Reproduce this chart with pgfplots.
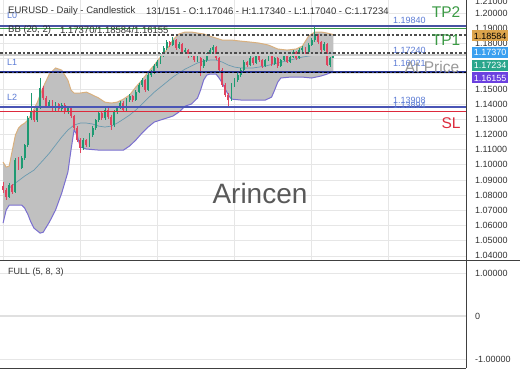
\documentclass[border=0pt]{standalone}
\usepackage{fontspec}
\setmainfont{Liberation Sans}
\usepackage{pgfplots}
\usepackage{pgfplotstable}
\pgfplotsset{compat=1.18}

\definecolor{upc}{HTML}{1E9A72}
\definecolor{dnc}{HTML}{E0435E}
\definecolor{txt}{HTML}{333333}
\definecolor{gridc}{HTML}{E6E6E6}
\definecolor{bbfill}{HTML}{C0C0C0}
\definecolor{bbup}{HTML}{D9B07E}
\definecolor{bblo}{HTML}{7A6FD0}
\definecolor{bbmid}{HTML}{6A9AB0}
\definecolor{lvlblue}{HTML}{5B7BD5}
\definecolor{tpgreen}{HTML}{3A9A44}
\definecolor{slred}{HTML}{DD2A3C}
\definecolor{navy}{HTML}{283593}
\definecolor{l2blue}{HTML}{4A55B5}
\definecolor{boxor}{HTML}{DCA44C}
\definecolor{boxbl}{HTML}{3AA0F0}
\definecolor{boxte}{HTML}{2AA68C}
\definecolor{boxpu}{HTML}{6B40E0}

\pgfplotstableread{
i o h l c
3 1.0787 1.0880 1.0780 1.0867
5 1.0820 1.1045 1.0815 1.1031
7 1.0979 1.1060 1.0970 1.1044
8 1.1044 1.1140 1.1030 1.1130
9 1.1130 1.1320 1.1120 1.1308
10 1.1308 1.1473 1.1295 1.1348
12 1.1295 1.1385 1.1285 1.1374
13 1.1374 1.1572 1.1365 1.1506
16 1.1387 1.1430 1.1375 1.1414
18 1.1361 1.1415 1.1350 1.1400
20 1.1367 1.1405 1.1355 1.1394
22 1.1348 1.1385 1.1335 1.1374
27 1.1110 1.1175 1.1100 1.1163
29 1.1130 1.1210 1.1120 1.1196
30 1.1196 1.1255 1.1185 1.1242
31 1.1242 1.1305 1.1230 1.1295
32 1.1295 1.1355 1.1285 1.1341
34 1.1308 1.1375 1.1298 1.1361
37 1.1262 1.1360 1.1250 1.1348
38 1.1348 1.1385 1.1335 1.1374
39 1.1374 1.1420 1.1365 1.1407
41 1.1361 1.1440 1.1350 1.1427
42 1.1427 1.1465 1.1415 1.1453
44 1.1427 1.1490 1.1418 1.1479
45 1.1479 1.1538 1.1470 1.1526
46 1.1526 1.1570 1.1515 1.1559
48 1.1493 1.1602 1.1485 1.1591
49 1.1591 1.1625 1.1580 1.1611
50 1.1611 1.1662 1.1600 1.1651
51 1.1651 1.1690 1.1640 1.1677
52 1.1677 1.1735 1.1665 1.1723
53 1.1723 1.1780 1.1712 1.1769
54 1.1769 1.1820 1.1758 1.1809
56 1.1789 1.1842 1.1780 1.1822
58 1.1769 1.1808 1.1760 1.1796
60 1.1743 1.1768 1.1735 1.1756
62 1.1717 1.1742 1.1708 1.1730
64 1.1690 1.1715 1.1680 1.1703
66 1.1651 1.1700 1.1640 1.1690
67 1.1690 1.1735 1.1680 1.1723
68 1.1723 1.1768 1.1715 1.1756
69 1.1756 1.1790 1.1745 1.1776
75 1.1427 1.1538 1.1418 1.1526
76 1.1526 1.1570 1.1515 1.1559
77 1.1559 1.1602 1.1548 1.1591
78 1.1591 1.1635 1.1580 1.1624
79 1.1624 1.1688 1.1615 1.1677
81 1.1657 1.1715 1.1648 1.1703
83 1.1671 1.1728 1.1662 1.1717
86 1.1651 1.1700 1.1642 1.1690
87 1.1690 1.1728 1.1682 1.1717
89 1.1664 1.1712 1.1655 1.1703
91 1.1651 1.1700 1.1642 1.1690
92 1.1690 1.1735 1.1682 1.1723
94 1.1677 1.1720 1.1668 1.1710
95 1.1710 1.1755 1.1702 1.1743
97 1.1703 1.1768 1.1695 1.1756
98 1.1756 1.1780 1.1745 1.1769
100 1.1743 1.1800 1.1735 1.1789
101 1.1789 1.1835 1.1780 1.1822
102 1.1822 1.1914 1.1812 1.1855
105 1.1756 1.1810 1.1748 1.1796
107 1.1660 1.1712 1.1645 1.1705
108 1.17046 1.17340 1.17040 1.17234
}\upT

\pgfplotstableread{
i o h l c
1 1.0860 1.0885 1.0815 1.0834
2 1.0834 1.0850 1.0770 1.0787
4 1.0867 1.0875 1.0805 1.0820
6 1.1031 1.1050 1.0965 1.0979
11 1.1348 1.1360 1.1280 1.1295
14 1.1506 1.1520 1.1430 1.1440
15 1.1440 1.1455 1.1375 1.1387
17 1.1414 1.1425 1.1350 1.1361
19 1.1400 1.1410 1.1355 1.1367
21 1.1394 1.1405 1.1335 1.1348
23 1.1374 1.1385 1.1310 1.1321
24 1.1321 1.1330 1.1230 1.1242
25 1.1242 1.1255 1.1150 1.1163
26 1.1163 1.1175 1.1077 1.1110
28 1.1163 1.1172 1.1118 1.1130
33 1.1341 1.1350 1.1295 1.1308
35 1.1361 1.1372 1.1305 1.1315
36 1.1315 1.1325 1.1229 1.1262
40 1.1407 1.1418 1.1350 1.1361
43 1.1453 1.1462 1.1415 1.1427
47 1.1559 1.1568 1.1480 1.1493
55 1.1809 1.1818 1.1778 1.1789
57 1.1822 1.1830 1.1758 1.1769
59 1.1796 1.1805 1.1732 1.1743
61 1.1756 1.1765 1.1705 1.1717
63 1.1730 1.1738 1.1680 1.1690
65 1.1703 1.1712 1.1585 1.1651
70 1.1776 1.1785 1.1692 1.1703
71 1.1703 1.1712 1.1612 1.1624
72 1.1624 1.1635 1.1515 1.1526
73 1.1526 1.1540 1.1448 1.1460
74 1.1460 1.1470 1.1380 1.1427
80 1.1677 1.1685 1.1645 1.1657
82 1.1703 1.1712 1.1660 1.1671
84 1.1717 1.1725 1.1680 1.1690
85 1.1690 1.1698 1.1640 1.1651
88 1.1717 1.1725 1.1652 1.1664
90 1.1703 1.1710 1.1640 1.1651
93 1.1723 1.1730 1.1668 1.1677
96 1.1743 1.1750 1.1692 1.1703
99 1.1769 1.1778 1.1732 1.1743
103 1.1855 1.1865 1.1798 1.1809
104 1.1809 1.1818 1.1745 1.1756
106 1.1796 1.1805 1.1650 1.1660
}\dnT

\begin{document}
\begin{tikzpicture}[x=1pt,y=1pt]
\fill[white] (0,0) rectangle (520,390);

\begin{axis}[
  name=price, at={(0pt,130pt)}, anchor=south west,
  scale only axis, width=466pt, height=260pt,
  xmin=0, xmax=151, ymin=1.0373, ymax=1.2086,
  axis line style={draw=none}, tick style={draw=none},
  xtick={1,26,51,76,101,126}, xticklabel=\empty,
  ytick={1.04,1.05,1.06,1.07,1.08,1.09,1.10,1.11,1.12,1.13,1.14,1.15,1.16,1.17,1.18,1.19,1.20},
  yticklabels={1.04000,1.05000,1.06000,1.07000,1.08000,1.09000,1.10000,1.11000,1.12000,1.13000,1.14000,1.15000,{},{},1.18000,1.19000,1.20000},
  yticklabel pos=right,
  yticklabel style={anchor=west, inner sep=0pt, xshift=9pt, font=\fontsize{9}{10}\selectfont, text=txt},
  xmajorgrids, ymajorgrids,
  grid style={draw=gridc, line width=0.7pt},
]
% Bollinger band area (upper band, then lower band in reverse)
\addplot[fill=bbfill, draw=none] coordinates {
(1,1.1018)(2,1.0985)(3,1.0992)(4,1.1097)(5,1.1196)(6,1.1242)(7,1.1262)(8,1.1275)(9,1.1295)(10,1.1328)(12,1.1407)(14,1.1512)(16,1.1598)(18,1.1638)(20,1.1624)(22,1.1558)(23,1.1493)(24,1.1473)(26,1.1473)(28,1.1479)(30,1.1460)(32,1.1440)(34,1.1413)(36,1.1407)(38,1.1413)(40,1.1433)(42,1.1460)(44,1.1512)(46,1.1558)(48,1.1611)(50,1.1657)(52,1.1710)(54,1.1756)(56,1.1822)(58,1.1862)(60,1.1875)(62,1.1875)(64,1.1868)(66,1.1862)(68,1.1848)(70,1.1835)(72,1.1822)(75,1.1822)(78,1.1815)(81,1.1809)(84,1.1802)(87,1.1789)(90,1.1763)(93,1.1756)(96,1.1763)(98,1.1783)(100,1.1848)(102,1.1875)(104,1.1875)(106,1.1868)(108,1.1858)
(108,1.1615)(106,1.1598)(104,1.1585)(101,1.1572)(98,1.1578)(94,1.1578)(91,1.1572)(90,1.1545)(89,1.1493)(88,1.1446)(86,1.1427)(82,1.1427)(78,1.1427)(75,1.1433)(74,1.1460)(73,1.1499)(72,1.1539)(71,1.1572)(70,1.1598)(68,1.1598)(67,1.1591)(66,1.1559)(65,1.1493)(64,1.1440)(62,1.1400)(60,1.1387)(58,1.1348)(56,1.1321)(54,1.1308)(52,1.1295)(50,1.1282)(48,1.1249)(46,1.1209)(44,1.1163)(42,1.1124)(40,1.1097)(36,1.1097)(32,1.1097)(28,1.1104)(26,1.1117)(25,1.1196)(24,1.1229)(23,1.1097)(22,1.0952)(20,1.0814)(18,1.0702)(16,1.0623)(14,1.0556)(13,1.0550)(11,1.0583)(10,1.0623)(9,1.0675)(8,1.0715)(7,1.0735)(5,1.0735)(3,1.0735)(2,1.0702)(1,1.0616)} -- cycle;
% upper band
\addplot[draw=bbup, line width=1pt] coordinates {
(1,1.1018)(2,1.0985)(3,1.0992)(4,1.1097)(5,1.1196)(6,1.1242)(7,1.1262)(8,1.1275)(9,1.1295)(10,1.1328)(12,1.1407)(14,1.1512)(16,1.1598)(18,1.1638)(20,1.1624)(22,1.1558)(23,1.1493)(24,1.1473)(26,1.1473)(28,1.1479)(30,1.1460)(32,1.1440)(34,1.1413)(36,1.1407)(38,1.1413)(40,1.1433)(42,1.1460)(44,1.1512)(46,1.1558)(48,1.1611)(50,1.1657)(52,1.1710)(54,1.1756)(56,1.1822)(58,1.1862)(60,1.1875)(62,1.1875)(64,1.1868)(66,1.1862)(68,1.1848)(70,1.1835)(72,1.1822)(75,1.1822)(78,1.1815)(81,1.1809)(84,1.1802)(87,1.1789)(90,1.1763)(93,1.1756)(96,1.1763)(98,1.1783)(100,1.1848)(102,1.1875)(104,1.1875)(106,1.1868)(108,1.1858)};
% lower band
\addplot[draw=bblo, line width=1pt] coordinates {
(1,1.0616)(2,1.0702)(3,1.0735)(5,1.0735)(7,1.0735)(8,1.0715)(9,1.0675)(10,1.0623)(11,1.0583)(13,1.0550)(14,1.0556)(16,1.0623)(18,1.0702)(20,1.0814)(22,1.0952)(23,1.1097)(24,1.1229)(25,1.1196)(26,1.1117)(28,1.1104)(32,1.1097)(36,1.1097)(40,1.1097)(42,1.1124)(44,1.1163)(46,1.1209)(48,1.1249)(50,1.1282)(52,1.1295)(54,1.1308)(56,1.1321)(58,1.1348)(60,1.1387)(62,1.1400)(64,1.1440)(65,1.1493)(66,1.1559)(67,1.1591)(68,1.1598)(70,1.1598)(71,1.1572)(72,1.1539)(73,1.1499)(74,1.1460)(75,1.1433)(78,1.1427)(82,1.1427)(86,1.1427)(88,1.1446)(89,1.1493)(90,1.1545)(91,1.1572)(94,1.1578)(98,1.1578)(101,1.1572)(104,1.1585)(106,1.1598)(108,1.1615)};
% middle band
\addplot[draw=bbmid, line width=0.7pt] coordinates {
(3,1.0847)(5,1.0880)(8,1.0926)(11,1.0965)(14,1.1031)(16,1.1077)(18,1.1130)(20,1.1183)(22,1.1229)(24,1.1262)(26,1.1275)(28,1.1275)(30,1.1269)(32,1.1255)(34,1.1249)(36,1.1255)(38,1.1275)(40,1.1301)(42,1.1328)(44,1.1361)(46,1.1400)(48,1.1440)(50,1.1479)(52,1.1512)(54,1.1545)(56,1.1578)(58,1.1605)(60,1.1631)(62,1.1651)(64,1.1671)(66,1.1684)(68,1.1690)(70,1.1690)(72,1.1677)(74,1.1657)(76,1.1644)(78,1.1638)(82,1.1638)(86,1.1651)(90,1.1671)(94,1.1690)(98,1.1710)(102,1.1723)(105,1.1730)(108,1.1737)};
% candles: wicks
\addplot[draw=none, mark=none, error bars/.cd, y dir=both, y explicit, error mark=none, error bar style={draw=upc, line width=0.7pt}]
  table[x=i, y=c, y error plus expr=\thisrow{h}-\thisrow{c}, y error minus expr=\thisrow{c}-\thisrow{l}] {\upT};
\addplot[draw=none, mark=none, error bars/.cd, y dir=both, y explicit, error mark=none, error bar style={draw=dnc, line width=0.7pt}]
  table[x=i, y=c, y error plus expr=\thisrow{h}-\thisrow{c}, y error minus expr=\thisrow{c}-\thisrow{l}] {\dnT};
% candles: bodies
\addplot[draw=none, mark=none, error bars/.cd, y dir=plus, y explicit, error mark=none, error bar style={draw=upc, line width=1.9pt}]
  table[x=i, y=o, y error plus expr=\thisrow{c}-\thisrow{o}] {\upT};
\addplot[draw=none, mark=none, error bars/.cd, y dir=plus, y explicit, error mark=none, error bar style={draw=dnc, line width=1.9pt}]
  table[x=i, y=c, y error plus expr=\thisrow{o}-\thisrow{c}] {\dnT};
% level lines
\addplot[draw=navy!85, line width=1.2pt] coordinates {(0,1.1914)(151,1.1914)};
\addplot[draw=tpgreen, line width=1pt] coordinates {(0,1.1901)(151,1.1901)};
\addplot[draw=black!70, line width=1.2pt, dash pattern=on 2.5pt off 2pt] coordinates {(0,1.1855)(151,1.1855)};
\addplot[draw=black!70, line width=1.2pt, dash pattern=on 2.5pt off 2pt] coordinates {(0,1.1737)(151,1.1737)};
\addplot[draw=black!20, line width=2pt] coordinates {(0,1.1723)(151,1.1723)};
\addplot[draw=navy, line width=1.8pt] coordinates {(0,1.1611)(151,1.1611)};
\addplot[draw=black, line width=1pt, dash pattern=on 2.5pt off 2pt] coordinates {(0,1.1611)(151,1.1611)};
\addplot[draw=l2blue, line width=1.8pt] coordinates {(0,1.1381)(151,1.1381)};
\addplot[draw=slred, line width=1pt] coordinates {(0,1.1354)(151,1.1354)};
\end{axis}

\begin{axis}[
  name=lower, at={(0pt,22pt)}, anchor=south west,
  scale only axis, width=466pt, height=108pt,
  xmin=0, xmax=151, ymin=-1.209, ymax=1.302,
  axis line style={draw=none}, tick style={draw=none},
  xtick=\empty,
  ytick={-1,0,1}, yticklabels={-1.00000,0,1.00000},
  yticklabel pos=right,
  yticklabel style={anchor=west, inner sep=0pt, xshift=9pt, font=\fontsize{9}{10}\selectfont, text=txt},
  ymajorgrids,
  grid style={draw=gridc, line width=0.7pt},
]
\addplot[draw=black!12, line width=1.5pt] coordinates {(0,0)(151,0)};
\end{axis}

% frame
\draw[black!75, line width=0.9pt] (0,130) -- (520,130);
\draw[black!75, line width=0.9pt] (0,22) -- (466,22);
\draw[black!75, line width=0.9pt] (466,22) -- (466,390);

% cut label at top
\begin{scope}
\clip (0,0) rectangle (520,390);
\node[anchor=west, inner sep=0pt, font=\fontsize{9}{10}\selectfont, text=txt] at (475,389) {1.21000};
\end{scope}

% price boxes
\tikzset{pbox/.style={anchor=west, inner sep=0pt, minimum width=36pt, minimum height=11pt, font=\fontsize{9}{10}\selectfont}}
\node[pbox, fill=boxor, text=black] at (472,354) {1.18584};
\node[pbox, fill=boxbl, text=white] at (472,337.5) {1.17370};
\node[pbox, fill=boxte, text=white] at (472,324.5) {1.17234};
\node[pbox, fill=boxpu, text=white] at (472,312) {1.16155};

% level labels
\tikzset{lv/.style={anchor=west, inner sep=0pt, font=\fontsize{9}{10}\selectfont, text=lvlblue}}
\node[lv] at (7,375) {L0};
\node[lv] at (7,328) {L1};
\node[lv] at (7,293) {L2};
\node[lv] at (393,370) {1.19840};
\node[lv] at (393,340) {1.17240};
\node[lv] at (393,327) {1.16021};
\node[lv] at (393,290) {1.13908};
\node[lv] at (393,285) {1.13894};

\node[inner sep=0pt, font=\fontsize{15.5}{17}\selectfont, text=black!40] at (432,323) {At Price};
\node[inner sep=0pt, font=\fontsize{15.5}{17}\selectfont, text=tpgreen] at (446,378) {TP2};
\node[inner sep=0pt, font=\fontsize{15.5}{17}\selectfont, text=tpgreen] at (446,350) {TP1};
\node[inner sep=0pt, font=\fontsize{15.5}{17}\selectfont, text=slred] at (451,267) {SL};

% titles
\node[anchor=west, inner sep=0pt, font=\fontsize{9.5}{11}\selectfont, text=txt] at (8,379) {EURUSD - Daily - Candlestick};
\node[anchor=west, inner sep=0pt, font=\fontsize{9.5}{11}\selectfont, text=txt] at (146,379) {131/151 - O:1.17046 - H:1.17340 - L:1.17040 - C:1.17234};
\node[anchor=west, inner sep=0pt, font=\fontsize{9.5}{11}\selectfont, text=txt] at (8,360) {BB (20, 2)};
\node[anchor=west, inner sep=0pt, font=\fontsize{9.5}{11}\selectfont, text=txt] at (60,360) {1.17370/1.18584/1.16155};
\node[anchor=west, inner sep=0pt, font=\fontsize{9}{10}\selectfont, text=txt] at (8,118) {FULL (5, 8, 3)};

% watermark
\node[inner sep=0pt, font=\fontsize{28}{30}\selectfont, text=black!65] at (260,197) {Arincen};

\pgfresetboundingbox
\useasboundingbox (0,0) rectangle (520,390);
\end{tikzpicture}
\end{document}
